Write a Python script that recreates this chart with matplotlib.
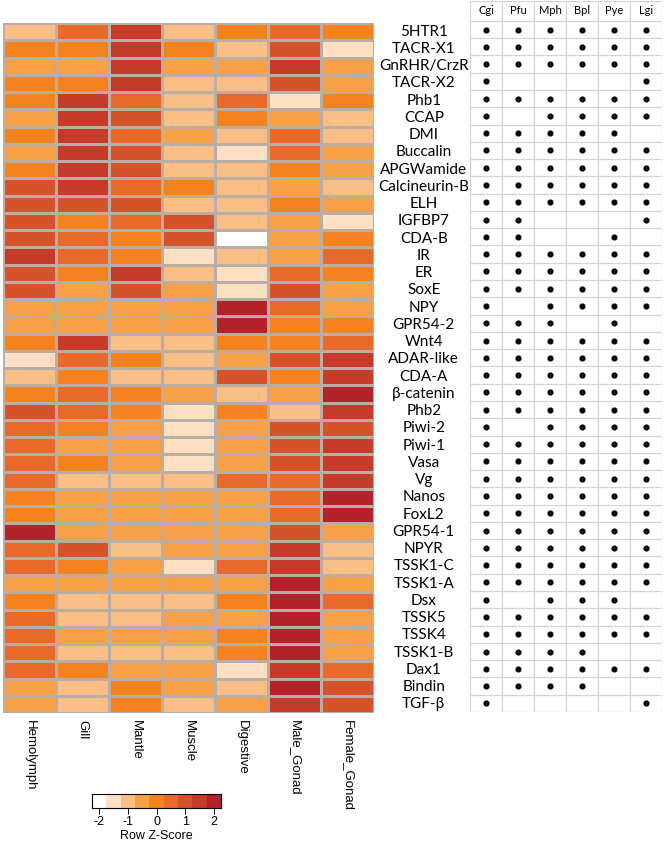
import numpy as np
import matplotlib
matplotlib.use("Agg")
import matplotlib.pyplot as plt
from matplotlib.colors import ListedColormap, BoundaryNorm

tissues = ["Hemolymph", "Gill", "Mantle", "Muscle", "Digestive", "Male_Gonad", "Female_Gonad"]
species = ["Cgi", "Pfu", "Mph", "Bpl", "Pye", "Lgi"]

genes = ["5HTR1", "TACR-X1", "GnRHR/CrzR", "TACR-X2", "Phb1", "CCAP", "DMI", "Buccalin",
         "APGWamide", "Calcineurin-B", "ELH", "IGFBP7", "CDA-B", "IR", "ER", "SoxE", "NPY",
         "GPR54-2", "Wnt4", "ADAR-like", "CDA-A", "β-catenin", "Phb2", "Piwi-2", "Piwi-1",
         "Vasa", "Vg", "Nanos", "FoxL2", "GPR54-1", "NPYR", "TSSK1-C", "TSSK1-A", "Dsx",
         "TSSK5", "TSSK4", "TSSK1-B", "Dax1", "Bindin", "TGF-β"]

# row z-scores
zscore = [
    [-1.0, 0.5, 1.5, -1.0, 0.0, 0.5, 0.0],
    [0.0, 0.0, 1.5, 0.0, -1.0, 1.0, -1.5],
    [-0.5, -0.5, 1.5, -0.5, -0.5, 1.5, -0.5],
    [0.0, 0.0, 1.5, -1.0, -1.0, 1.0, -0.5],
    [0.0, 1.5, 0.5, -1.0, 0.5, -1.5, 0.0],
    [-0.5, 1.5, 1.0, -1.0, 0.0, -0.5, -1.0],
    [0.0, 1.5, 0.5, -0.5, -1.0, 0.5, -1.0],
    [-0.5, 1.5, 1.0, -1.0, -1.5, 0.5, -0.5],
    [0.0, 1.5, 1.0, -1.0, -1.0, 0.0, -0.5],
    [1.0, 1.5, 0.5, 0.0, -1.0, -0.5, -1.0],
    [1.0, 1.0, 1.0, -1.0, -1.0, 0.0, -0.5],
    [1.0, 0.0, 0.5, 1.0, -1.0, -0.5, -1.5],
    [1.0, 0.5, 0.0, 1.0, -2.0, -0.5, 0.0],
    [1.5, 0.5, 0.0, -1.5, -1.0, -0.5, 0.5],
    [1.0, 0.0, 1.5, -1.0, -1.5, 0.5, 0.0],
    [1.0, -0.5, 1.0, -0.5, -1.5, 1.0, -0.5],
    [-0.5, -0.5, -0.5, -0.5, 2.0, 0.5, -0.5],
    [-0.5, -0.5, -0.5, -0.5, 2.0, 0.0, 0.0],
    [0.0, 1.5, -1.0, -1.0, 0.0, 0.0, 0.5],
    [-1.5, 0.5, 0.0, -1.0, -0.5, 1.0, 1.5],
    [-1.0, 0.0, -1.0, -1.0, 1.0, 0.0, 1.5],
    [0.0, 0.5, 0.0, -0.5, -1.0, -0.5, 2.0],
    [1.0, 0.5, 0.0, -1.5, 0.0, -1.0, 1.5],
    [0.5, 0.0, -0.5, -1.5, -0.5, 1.0, 1.0],
    [0.5, -0.5, -0.5, -1.5, -0.5, 1.0, 1.5],
    [0.5, 0.0, -0.5, -1.5, -0.5, 1.0, 1.5],
    [0.5, -1.0, -1.0, -1.0, 0.5, 0.5, 1.5],
    [0.0, -0.5, -0.5, -0.5, -0.5, 0.5, 2.0],
    [0.0, -0.5, -0.5, -0.5, -0.5, 0.5, 2.0],
    [2.0, -0.5, -0.5, -0.5, -0.5, 1.0, -0.5],
    [0.5, 1.0, -1.0, -0.5, -0.5, 1.5, -1.0],
    [0.5, 0.0, -0.5, -1.5, 0.5, 1.5, -1.0],
    [-0.5, -0.5, -0.5, -0.5, -0.5, 2.0, -0.5],
    [0.0, -1.0, -1.0, -1.0, 0.0, 2.0, 0.5],
    [0.5, -1.0, -1.0, -0.5, -0.5, 2.0, -0.5],
    [0.5, -0.5, -0.5, -0.5, 0.0, 2.0, -0.5],
    [0.5, -1.0, -1.0, -1.0, 0.0, 2.0, -0.5],
    [0.5, 0.0, -0.5, -0.5, -1.5, 1.5, 0.5],
    [-0.5, -1.0, 0.0, -0.5, -1.0, 2.0, 1.0],
    [-0.5, -1.0, 0.0, -1.0, -0.5, 1.5, 1.0],
]

# presence (1) / absence (0) in Cgi, Pfu, Mph, Bpl, Pye, Lgi
presence = [
    [1, 1, 1, 1, 1, 1], [1, 1, 1, 1, 1, 1], [1, 1, 1, 1, 1, 1], [1, 0, 0, 0, 0, 1],
    [1, 1, 1, 1, 1, 1], [1, 0, 1, 1, 1, 1], [1, 1, 1, 1, 1, 0], [1, 1, 1, 1, 1, 1],
    [1, 1, 1, 1, 1, 1], [1, 1, 1, 1, 1, 1], [1, 1, 1, 1, 1, 1], [1, 1, 0, 0, 0, 1],
    [1, 1, 0, 0, 1, 0], [1, 1, 1, 1, 1, 1], [1, 1, 1, 1, 1, 1], [1, 1, 1, 1, 1, 1],
    [1, 0, 1, 1, 1, 1], [1, 1, 1, 0, 1, 0], [1, 1, 1, 1, 1, 1], [1, 1, 1, 1, 1, 1],
    [1, 1, 1, 1, 1, 1], [1, 1, 1, 1, 1, 1], [1, 1, 1, 1, 1, 1], [1, 0, 1, 1, 1, 1],
    [1, 1, 1, 1, 1, 1], [1, 1, 1, 1, 1, 1], [1, 1, 1, 1, 1, 1], [1, 1, 1, 1, 1, 1],
    [1, 1, 1, 1, 1, 1], [1, 1, 1, 1, 1, 1], [1, 1, 1, 1, 1, 1], [1, 1, 1, 1, 1, 1],
    [1, 1, 1, 1, 1, 1], [1, 0, 1, 1, 1, 0], [1, 1, 1, 1, 1, 1], [1, 1, 1, 1, 1, 1],
    [1, 1, 1, 1, 0, 0], [1, 1, 1, 1, 1, 1], [1, 1, 1, 1, 0, 0], [1, 0, 0, 0, 0, 1],
]

palette = ["#ffffff", "#fde0c4", "#fbbe84", "#f8a047", "#f3821f",
           "#e8692a", "#d5522a", "#c53a28", "#b22228"]
bounds = np.arange(-2.25, 2.26, 0.5)
cmap = ListedColormap(palette)
norm = BoundaryNorm(bounds, cmap.N)

W, H = 664, 844
fig = plt.figure(figsize=(W / 100, H / 100), dpi=100)

def px_axes(x0, y0, x1, y1):
    return fig.add_axes([x0 / W, 1 - y1 / H, (x1 - x0) / W, (y1 - y0) / H])

n = len(genes)

# heatmap
ax = px_axes(3, 23, 374, 713)
Z = np.array(zscore)
ax.pcolormesh(np.arange(len(tissues) + 1), np.arange(n + 1), Z, cmap=cmap, norm=norm,
              edgecolor="#b8aea6", linewidth=0.8)
ax.set_xlim(0, len(tissues))
ax.set_ylim(n, 0)
ax.set_xticks(np.arange(len(tissues)) + 0.5)
ax.set_xticklabels(tissues, rotation=270, fontsize=9.5, family="Liberation Sans",
                   va="top", ha="center")
ax.tick_params(axis="x", length=0, pad=5)
ax.set_yticks([])
for s in ax.spines.values():
    s.set_visible(False)

# gene names
for i, g in enumerate(genes):
    ax.text(7.94, i + 0.5, g, ha="center", va="center", fontsize=11,
            family="Lato", clip_on=False)

# presence table
tb = px_axes(470, 1, 662, 712)
head = 1.15
tb.set_xlim(0, len(species))
tb.set_ylim(n, -head)
grid_c = "#d4d4d4"
for k in range(len(species) + 1):
    tb.plot([k, k], [-head, n], color=grid_c, lw=0.9)
for r in range(n + 1):
    tb.plot([0, len(species)], [r, r], color=grid_c, lw=0.9)
tb.plot([0, len(species)], [-head, -head], color=grid_c, lw=0.9)
for k, sp in enumerate(species):
    tb.text(k + 0.5, -head / 2, sp, ha="center", va="center", fontsize=8, family="Lato")
P = np.array(presence)
rr, cc = np.nonzero(P)
tb.plot(cc + 0.5, rr + 0.5, "o", color="black", ms=3.4, ls="none")
tb.axis("off")

# colour key
cax = px_axes(92, 794, 221, 808)
cax.pcolormesh(bounds, [0, 1], np.array([bounds[:-1] + 0.25]), cmap=cmap, norm=norm)
cax.set_xlim(bounds[0], bounds[-1])
cax.set_ylim(0, 1)
cax.set_yticks([])
cax.set_xticks([-2, -1, 0, 1, 2])
cax.set_xticklabels(["-2", "-1", "0", "1", "2"], family="Liberation Sans", fontsize=9)
cax.tick_params(axis="x", length=4, width=0.7, pad=1.5)
cax.set_xlabel("Row Z-Score", family="Liberation Sans", fontsize=9, labelpad=1.5)
for s in cax.spines.values():
    s.set_linewidth(0.8)

fig.savefig("out.png", dpi=100)
